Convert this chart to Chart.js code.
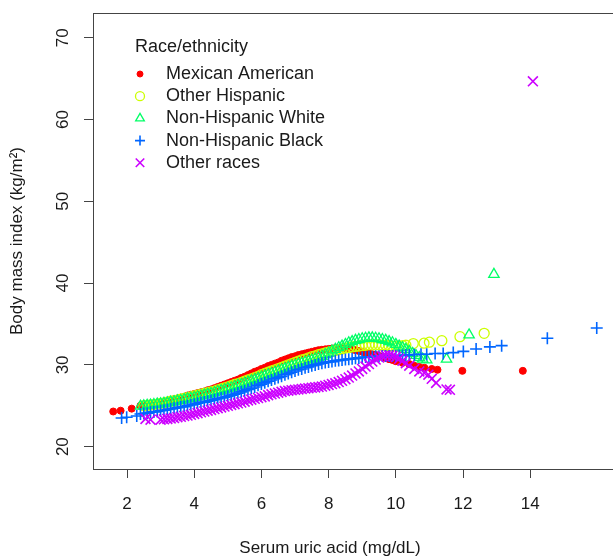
<!DOCTYPE html>
<html>
<head>
<meta charset="utf-8">
<script src="https://cdn.jsdelivr.net/npm/chart.js@4/dist/chart.umd.min.js"></script>
<style>
  html, body { margin: 0; padding: 0; background: #fff; overflow: hidden; }
  #wrap { position: relative; width: 640px; height: 558px; }
</style>
</head>
<body>
<div id="wrap"><canvas id="bmiChart"></canvas></div>
<script>
// Serum uric acid (x) vs fitted BMI (y), one pair of arrays per race/ethnicity group
const mexX = [1.59, 1.81, 2.14,
  2.4, 2.5, 2.6, 2.7, 2.8, 2.9, 3.0, 3.1, 3.2, 3.3, 3.4, 3.5, 3.6, 3.7, 3.8, 3.9, 4.0, 4.1, 4.2, 4.3,
  4.4, 4.5, 4.6, 4.7, 4.8, 4.9, 5.0, 5.1, 5.2, 5.3, 5.4, 5.5, 5.6, 5.7, 5.8, 5.9, 6.0, 6.1, 6.2, 6.3,
  6.4, 6.5, 6.6, 6.7, 6.8, 6.9, 7.0, 7.1, 7.2, 7.3, 7.4, 7.5, 7.6, 7.7, 7.8, 7.9, 8.0, 8.1, 8.2, 8.3,
  8.4, 8.5, 8.6, 8.7, 8.8, 8.9, 9.0, 9.1, 9.2, 9.3, 9.4, 9.5, 9.6, 9.7, 9.8, 9.9, 10.0,
  10.2, 10.4, 10.55, 10.7, 10.85, 11.07, 11.24, 11.98, 13.78];
const mexY = [24.3, 24.4, 24.65,
  25.0, 25.05, 25.1, 25.2, 25.25, 25.3, 25.4, 25.5, 25.6, 25.7,
  25.8, 25.9, 26.0, 26.1, 26.25, 26.35, 26.45, 26.55, 26.65, 26.75,
  26.9, 27.0, 27.15, 27.3, 27.45, 27.6, 27.75, 27.9, 28.05, 28.2,
  28.4, 28.55, 28.75, 28.95, 29.15, 29.3, 29.5, 29.65, 29.85, 30.0,
  30.15, 30.3, 30.5, 30.65, 30.8, 30.95, 31.05, 31.2, 31.3, 31.4,
  31.5, 31.6, 31.7, 31.8, 31.85, 31.9, 31.95, 32.0, 32.05, 32.05,
  32.05, 32.0, 31.95, 31.9, 31.8, 31.7, 31.6, 31.5, 31.4, 31.3,
  31.2, 31.1, 30.95, 30.85, 30.7, 30.6, 30.45,
  30.25, 30.1, 29.9, 29.75, 29.65, 29.5, 29.4, 29.27, 29.27];

const hispX = [2.5, 2.6, 2.7, 2.8, 2.9, 3.0, 3.1, 3.2, 3.3, 3.4, 3.5, 3.6, 3.7, 3.8, 3.9, 4.0, 4.1, 4.2, 4.3, 4.4,
  4.5, 4.6, 4.7, 4.8, 4.9, 5.0, 5.1, 5.2, 5.3, 5.4, 5.5, 5.6, 5.7, 5.8, 5.9, 6.0, 6.1, 6.2, 6.3, 6.4,
  6.5, 6.6, 6.7, 6.8, 6.9, 7.0, 7.1, 7.2, 7.3, 7.4, 7.5, 7.6, 7.7, 7.8, 7.9, 8.0, 8.1, 8.2, 8.3, 8.4,
  8.5, 8.6, 8.7, 8.8, 8.9, 9.0, 9.1, 9.2, 9.3, 9.4, 9.5, 9.6, 9.7, 9.8, 9.9, 10.0, 10.1, 10.2, 10.3,
  10.52, 10.84, 11.0, 11.37, 11.91, 12.63];
const hispY = [25.0, 25.05, 25.1, 25.15, 25.2, 25.3, 25.35, 25.45, 25.55, 25.6,
  25.7, 25.8, 25.9, 26.0, 26.1, 26.2, 26.3, 26.4, 26.5, 26.6,
  26.7, 26.8, 26.95, 27.05, 27.2, 27.3, 27.45, 27.6, 27.7, 27.85,
  28.0, 28.15, 28.3, 28.45, 28.6, 28.8, 28.95, 29.1, 29.25, 29.4,
  29.55, 29.7, 29.85, 30.0, 30.15, 30.3, 30.45, 30.6, 30.7, 30.85,
  31.0, 31.1, 31.25, 31.35, 31.45, 31.55, 31.65, 31.75, 31.85, 31.95,
  32.05, 32.1, 32.2, 32.25, 32.3, 32.35, 32.4, 32.45, 32.45, 32.45,
  32.45, 32.4, 32.4, 32.35, 32.3, 32.3, 32.3, 32.35, 32.4,
  32.6, 32.65, 32.77, 32.96, 33.45, 33.86];

const whiteX = [2.4, 2.5, 2.6, 2.7, 2.8, 2.9, 3.0, 3.1, 3.2, 3.3, 3.4, 3.5, 3.6, 3.7, 3.8, 3.9, 4.0, 4.1, 4.2, 4.3,
  4.4, 4.5, 4.6, 4.7, 4.8, 4.9, 5.0, 5.1, 5.2, 5.3, 5.4, 5.5, 5.6, 5.7, 5.8, 5.9, 6.0, 6.1, 6.2, 6.3,
  6.4, 6.5, 6.6, 6.7, 6.8, 6.9, 7.0, 7.1, 7.2, 7.3, 7.4, 7.5, 7.6, 7.7, 7.8, 7.9, 8.0, 8.1, 8.2, 8.3,
  8.4, 8.5, 8.6, 8.7, 8.8, 8.9, 9.0, 9.1, 9.2, 9.3, 9.4, 9.5, 9.6, 9.7, 9.8, 9.9, 10.0, 10.1, 10.2, 10.3,
  10.4, 10.5, 10.6, 10.7, 10.8,
  10.92, 11.51, 12.18, 12.92];
const whiteY = [24.95, 25.0, 25.05, 25.1, 25.15, 25.2, 25.25, 25.3, 25.35, 25.45,
  25.5, 25.6, 25.65, 25.75, 25.85, 25.9, 26.0, 26.1, 26.2, 26.3,
  26.4, 26.5, 26.6, 26.75, 26.85, 26.95, 27.1, 27.2, 27.35, 27.5,
  27.6, 27.75, 27.9, 28.05, 28.2, 28.35, 28.5, 28.65, 28.8, 28.95,
  29.1, 29.25, 29.4, 29.55, 29.7, 29.85, 29.95, 30.1, 30.2, 30.35,
  30.45, 30.6, 30.75, 30.9, 31.05, 31.25, 31.45, 31.7, 31.9, 32.1,
  32.3, 32.5, 32.7, 32.85, 33.0, 33.1, 33.2, 33.25, 33.3, 33.3,
  33.25, 33.2, 33.1, 33.0, 32.85, 32.7, 32.5, 32.3, 32.1, 31.9,
  31.65, 31.4, 31.15, 30.9, 30.7,
  30.6, 30.7, 33.66, 41.06];

const blackX = [1.84, 1.99, 2.29,
  2.4, 2.5, 2.6, 2.7, 2.8, 2.9, 3.0, 3.1, 3.2, 3.3, 3.4, 3.5, 3.6, 3.7, 3.8, 3.9, 4.0, 4.1, 4.2, 4.3,
  4.4, 4.5, 4.6, 4.7, 4.8, 4.9, 5.0, 5.1, 5.2, 5.3, 5.4, 5.5, 5.6, 5.7, 5.8, 5.9, 6.0, 6.1, 6.2, 6.3,
  6.4, 6.5, 6.6, 6.7, 6.8, 6.9, 7.0, 7.1, 7.2, 7.3, 7.4, 7.5, 7.6, 7.7, 7.8, 7.9, 8.0, 8.1, 8.2, 8.3,
  8.4, 8.5, 8.6, 8.7, 8.8, 8.9, 9.0, 9.1, 9.2, 9.3, 9.4, 9.5, 9.6, 9.7, 9.8, 9.9, 10.0, 10.1, 10.2, 10.3,
  10.4, 10.55, 10.75, 10.92, 11.17, 11.41, 11.71, 12.01, 12.39, 12.8, 13.15, 14.51, 15.98];
const blackY = [23.5, 23.6, 23.75,
  24.0, 24.05, 24.1, 24.2, 24.25, 24.3, 24.4, 24.45, 24.55, 24.6,
  24.7, 24.75, 24.85, 24.9, 25.0, 25.1, 25.2, 25.3, 25.4, 25.45,
  25.55, 25.65, 25.75, 25.85, 25.95, 26.05, 26.15, 26.3, 26.4, 26.55,
  26.7, 26.85, 27.0, 27.15, 27.3, 27.5, 27.65, 27.8, 28.0, 28.15,
  28.3, 28.45, 28.6, 28.8, 28.95, 29.1, 29.25, 29.4, 29.5, 29.65,
  29.75, 29.9, 30.0, 30.1, 30.2, 30.3, 30.35, 30.4, 30.5, 30.55,
  30.6, 30.65, 30.7, 30.75, 30.8, 30.85, 30.9, 30.95, 31.0, 31.0,
  31.05, 31.05, 31.1, 31.1, 31.1, 31.1, 31.1, 31.15, 31.15, 31.2,
  31.2, 31.25, 31.3, 31.3, 31.4, 31.4, 31.5, 31.65, 31.95, 32.2, 32.35, 33.25, 34.5];

const otherX = [2.55, 2.7,
  3.0, 3.1, 3.2, 3.3, 3.4, 3.5, 3.6, 3.7, 3.8, 3.9, 4.0, 4.1, 4.2, 4.3, 4.4, 4.5, 4.6, 4.7, 4.8, 4.9,
  5.0, 5.1, 5.2, 5.3, 5.4, 5.5, 5.6, 5.7, 5.8, 5.9, 6.0, 6.1, 6.2, 6.3, 6.4, 6.5, 6.6, 6.7, 6.8, 6.9,
  7.0, 7.1, 7.2, 7.3, 7.4, 7.5, 7.6, 7.7, 7.8, 7.9, 8.0, 8.1, 8.2, 8.3, 8.4, 8.5, 8.6, 8.7, 8.8, 8.9,
  9.0, 9.1, 9.2, 9.3, 9.4, 9.5, 9.6, 9.7, 9.8, 9.9, 10.0, 10.1, 10.2, 10.3, 10.4,
  10.55, 10.7, 10.85, 10.97, 11.07, 11.2, 11.51, 11.61, 14.08];
const otherY = [23.4, 23.3,
  23.3, 23.35, 23.4, 23.45, 23.5, 23.6, 23.65, 23.75, 23.8, 23.9,
  24.0, 24.1, 24.2, 24.3, 24.4, 24.5, 24.6, 24.7, 24.8, 24.9,
  25.0, 25.1, 25.2, 25.3, 25.4, 25.5, 25.65, 25.75, 25.85, 25.95,
  26.05, 26.15, 26.3, 26.4, 26.5, 26.6, 26.7, 26.8, 26.85, 26.9,
  26.95, 27.0, 27.05, 27.1, 27.15, 27.2, 27.25, 27.3, 27.35, 27.45,
  27.55, 27.65, 27.75, 27.9, 28.05, 28.25, 28.45, 28.7, 28.95, 29.2,
  29.5, 29.8, 30.1, 30.4, 30.65, 30.9, 31.05, 31.15, 31.15, 31.1,
  30.95, 30.75, 30.5, 30.2, 29.9,
  29.5, 29.2, 29.0, 28.8, 28.3, 27.8, 27.0, 26.95, 64.67];

const groupNames = ['Mexican American', 'Other Hispanic', 'Non-Hispanic White', 'Non-Hispanic Black', 'Other races'];
const xTicks = [2, 4, 6, 8, 10, 12, 14];
const yTicks = [20, 30, 40, 50, 60, 70];

document.addEventListener('DOMContentLoaded', () => {
    const FONT = '"Liberation Sans", Arial, sans-serif';
    const TEXT = '#1a1a1a';
    const AXIS = '#444';

    const toPoints = (xs, ys) => xs.map((x, i) => ({ x, y: ys[i] }));

    const styles = [
        { color: '#FF0000', pointStyle: 'circle', radius: 3.5, fill: true, width: 1 },
        { color: '#CCFF00', pointStyle: 'circle', radius: 5, fill: false, width: 1.3 },
        { color: '#00FF66', pointStyle: 'triangle', radius: 6, fill: false, width: 1.3 },
        { color: '#0066FF', pointStyle: 'cross', radius: 6, fill: false, width: 1.6 },
        { color: '#CC00FF', pointStyle: 'crossRot', radius: 7, fill: false, width: 1.6 }
    ];
    const series = [[mexX, mexY], [hispX, hispY], [whiteX, whiteY], [blackX, blackY], [otherX, otherY]];

    const datasets = series.map(([xs, ys], i) => ({
        label: groupNames[i],
        data: toPoints(xs, ys),
        order: 5 - i, // later groups painted on top, as in the R plot
        pointStyle: styles[i].pointStyle,
        pointRadius: styles[i].radius,
        pointBorderWidth: styles[i].width,
        pointBorderColor: styles[i].color,
        pointBackgroundColor: styles[i].fill ? styles[i].color : 'rgba(0,0,0,0)',
        showLine: false
    }));

    // box, rotated y labels, axis titles and the in-plot legend
    const decorations = {
        id: 'decorations',
        afterDraw(chart) {
            const { ctx, chartArea: a, scales } = chart;
            ctx.save();
            ctx.strokeStyle = AXIS;
            ctx.lineWidth = 1;
            ctx.strokeRect(Math.round(a.left) + 0.5, Math.round(a.top) + 0.5, Math.round(a.right - a.left), Math.round(a.bottom - a.top));

            ctx.fillStyle = TEXT;
            ctx.font = `17px ${FONT}`;
            ctx.textAlign = 'center';
            ctx.textBaseline = 'middle';
            yTicks.forEach(v => {
                ctx.save();
                ctx.translate(63, scales.y.getPixelForValue(v));
                ctx.rotate(-Math.PI / 2);
                ctx.fillText(String(v), 0, 0);
                ctx.restore();
            });

            ctx.fillText('Serum uric acid (mg/dL)', 330, 548);
            ctx.save();
            ctx.translate(17, (a.top + a.bottom) / 2);
            ctx.rotate(-Math.PI / 2);
            ctx.fillText('Body mass index (kg/m²)', 0, 0);
            ctx.restore();

            ctx.font = `18px ${FONT}`;
            ctx.textAlign = 'left';
            ctx.fillText('Race/ethnicity', 135, 47);
            groupNames.forEach((name, i) => {
                const y = 74 + i * 22.2;
                const s = styles[i];
                ctx.fillStyle = TEXT;
                ctx.fillText(name, 166, y);
                ctx.strokeStyle = s.color;
                ctx.fillStyle = s.fill ? s.color : 'rgba(0,0,0,0)';
                ctx.lineWidth = s.width;
                Chart.helpers.drawPoint(ctx, {
                    pointStyle: s.pointStyle,
                    radius: s.pointStyle === 'circle' ? (s.fill ? 3 : 4.5) : s.radius - 1,
                    rotation: 0,
                    borderWidth: s.width
                }, 140, y);
            });
            ctx.restore();
        }
    };

    new Chart(document.getElementById('bmiChart'), {
        type: 'scatter',
        data: { datasets },
        options: {
            responsive: true,
            maintainAspectRatio: false,
            animation: false,
            events: [],
            layout: { padding: { top: 13, right: 10, left: 0, bottom: 0 } },
            plugins: { legend: { display: false }, tooltip: { enabled: false } },
            scales: {
                x: {
                    type: 'linear',
                    min: 0.988,
                    max: 16.97,
                    afterFit: scale => { scale.height = 89; },
                    afterBuildTicks: scale => { scale.ticks = xTicks.map(value => ({ value })); },
                    border: { display: false },
                    grid: { drawOnChartArea: false, drawTicks: true, tickLength: 9, color: AXIS, lineWidth: 1 },
                    ticks: { color: TEXT, font: { family: FONT, size: 17 }, padding: 16, maxRotation: 0, autoSkip: false }
                },
                y: {
                    type: 'linear',
                    min: 17.27,
                    max: 73.02,
                    afterFit: scale => { scale.width = 93; },
                    afterBuildTicks: scale => { scale.ticks = yTicks.map(value => ({ value })); },
                    border: { display: false },
                    grid: { drawOnChartArea: false, drawTicks: true, tickLength: 9, color: AXIS, lineWidth: 1 },
                    ticks: { display: false }
                }
            }
        },
        plugins: [decorations]
    });
});
</script>
</body>
</html>
